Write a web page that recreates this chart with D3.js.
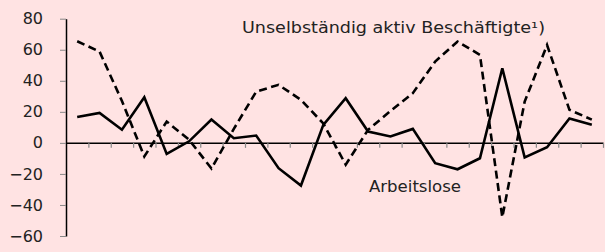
<!DOCTYPE html>
<html>
<head>
<meta charset="utf-8">
<script src="https://cdn.jsdelivr.net/npm/d3@7"></script>
<style>
  html, body { margin: 0; padding: 0; background: #ffe3e3; }
  svg { display: block; }
  text { font-family: "Century Gothic", "URW Gothic", "DejaVu Sans", sans-serif; fill: #222; }
</style>
</head>
<body>
<svg id="chart"></svg>
<script>
// one value per period, 24 periods
const periods = d3.range(24);
const beschaeftigte = [65.5, 58.8, 27, -8.8, 13.7, 2, -16.5, 9, 33, 37.4, 27.7, 12.5,
  -14, 8.4, 20.5, 32, 52.4, 65.3, 56.7, -47.9, 26.6, 63, 21.3, 15];
const arbeitslose = [16.7, 19.3, 8.5, 29.4, -7.1, 1, 15, 3, 4.7, -16.3, -27.5, 11.6,
  28.8, 7.3, 4.1, 9, -13.1, -17, -9.9, 48.1, -9.4, -2.8, 15.7, 11.6];
const yTicks = [-60, -40, -20, 0, 20, 40, 60, 80];

const WIDTH = 605;
const HEIGHT = 252;
const PADDING = { LEFT: 66, RIGHT: 2, TOP: 18.7, BOTTOM: 16 };

let svg = d3.select("#chart")
  .attr("width", WIDTH)
  .attr("height", HEIGHT);

let xScale = d3.scaleLinear()
  .domain([0, periods.length])
  .range([PADDING.LEFT, WIDTH - PADDING.RIGHT]);
let yScale = d3.scaleLinear()
  .domain([-60, 80])
  .range([HEIGHT - PADDING.BOTTOM, PADDING.TOP]);

// y axis
let yAxis = svg.append("g")
  .attr("transform", `translate(${PADDING.LEFT},0)`)
  .call(d3.axisLeft(yScale).tickValues(yTicks).tickSize(6).tickPadding(17).tickSizeOuter(0));
yAxis.select(".domain").attr("stroke", "#000").attr("stroke-width", 1.5);
yAxis.selectAll(".tick line").attr("stroke", "#888");
yAxis.selectAll(".tick text")
  .attr("font-size", 16)
  .style("font-family", null)
  .attr("font-family", null);

// x axis on the zero line, ticks between periods
let xAxis = svg.append("g")
  .attr("transform", `translate(0,${yScale(0)})`)
  .call(d3.axisBottom(xScale).tickValues(d3.range(1, periods.length + 1)).tickFormat("").tickSize(5).tickSizeOuter(0));
xAxis.select(".domain").attr("stroke", "#000").attr("stroke-width", 1.5);
xAxis.selectAll(".tick line").attr("stroke", "#888").attr("stroke-width", 1.2);

svg.selectAll(".tick text").attr("font-family", "inherit");
d3.selectAll("g").attr("font-family", null);

let line = d3.line()
  .x((d, i) => xScale(i + 0.5))
  .y(d => yScale(d));

svg.append("path")
  .datum(beschaeftigte)
  .attr("d", line)
  .attr("fill", "none")
  .attr("stroke", "#000")
  .attr("stroke-width", 2.6)
  .attr("stroke-dasharray", "8,4.5")
  .attr("stroke-linejoin", "miter");

svg.append("path")
  .datum(arbeitslose)
  .attr("d", line)
  .attr("fill", "none")
  .attr("stroke", "#000")
  .attr("stroke-width", 2.6)
  .attr("stroke-linejoin", "miter");

// series labels
svg.append("text")
  .attr("x", 242)
  .attr("y", 33)
  .attr("font-size", 16)
  .attr("textLength", 303)
  .attr("lengthAdjust", "spacingAndGlyphs")
  .text("Unselbständig aktiv Beschäftigte¹)");

svg.append("text")
  .attr("x", 369)
  .attr("y", 192)
  .attr("font-size", 16)
  .attr("textLength", 92)
  .attr("lengthAdjust", "spacingAndGlyphs")
  .text("Arbeitslose");
</script>
</body>
</html>
